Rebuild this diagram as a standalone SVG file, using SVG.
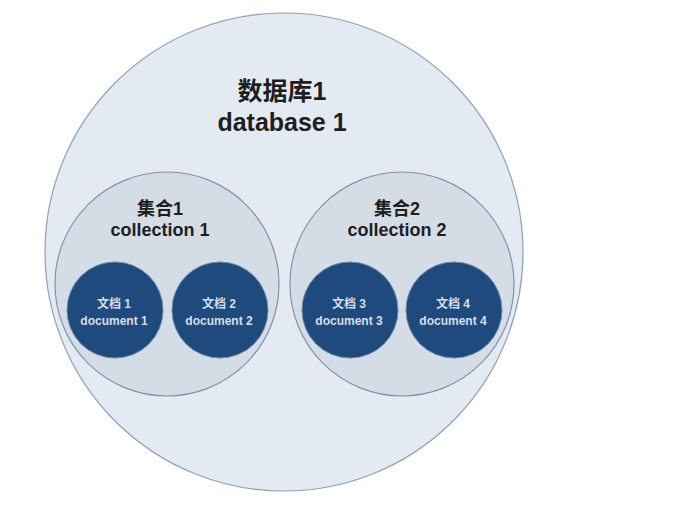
<svg xmlns="http://www.w3.org/2000/svg" width="696" height="515" viewBox="0 0 696 515">
<style>
.db{fill:#e4eaf1;stroke:#8ea2b8;stroke-width:1.2}
.col{fill:#d4dce6;stroke:#7f94ab;stroke-width:1.2}
.doc{fill:#1f4a7e;stroke:#6f88a6;stroke-width:1}
.t{font-family:"Liberation Sans","Noto Sans CJK SC",sans-serif;font-weight:bold;text-anchor:middle;fill:#1e1e1e}
.dt{font-family:"Liberation Sans","Noto Sans CJK SC",sans-serif;font-weight:bold;text-anchor:middle;fill:#d6dde8}
</style>
<rect width="696" height="515" fill="#ffffff"/>
<g id="database1">
<circle class="db" cx="284" cy="252" r="239"/>
<text class="t" x="282" y="100" font-size="25">数据库1</text>
<text class="t" x="282" y="131" font-size="25">database 1</text>
</g>
<g id="collection1">
<circle class="col" cx="167" cy="284" r="112"/>
<text class="t" x="160" y="215" font-size="18">集合1</text>
<text class="t" x="160" y="236" font-size="18">collection 1</text>
</g>
<g id="collection2">
<circle class="col" cx="402" cy="284" r="112"/>
<text class="t" x="397" y="215" font-size="18">集合2</text>
<text class="t" x="397" y="236" font-size="18">collection 2</text>
</g>
<g id="document1">
<circle class="doc" cx="115" cy="310" r="48"/>
<text class="dt" x="114" y="308" font-size="12">文档 1</text>
<text class="dt" x="114" y="325" font-size="12">document 1</text>
</g>
<g id="document2">
<circle class="doc" cx="220" cy="310" r="48"/>
<text class="dt" x="219" y="308" font-size="12">文档 2</text>
<text class="dt" x="219" y="325" font-size="12">document 2</text>
</g>
<g id="document3">
<circle class="doc" cx="350" cy="310" r="48"/>
<text class="dt" x="349" y="308" font-size="12">文档 3</text>
<text class="dt" x="349" y="325" font-size="12">document 3</text>
</g>
<g id="document4">
<circle class="doc" cx="454" cy="310" r="48"/>
<text class="dt" x="453" y="308" font-size="12">文档 4</text>
<text class="dt" x="453" y="325" font-size="12">document 4</text>
</g>
<g id="connectors"></g>
</svg>
